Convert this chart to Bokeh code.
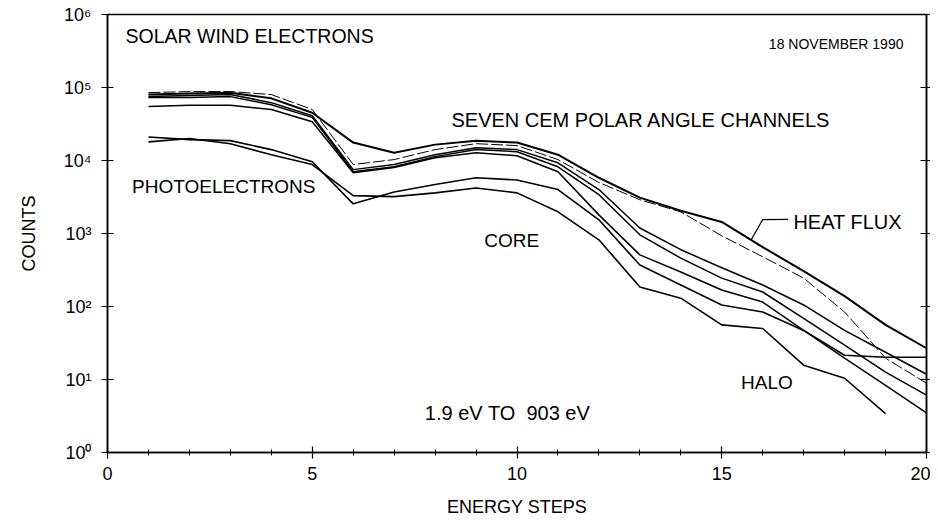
from bokeh.plotting import figure
from bokeh.models import Range1d, FixedTicker, LogAxis, CustomJSTickFormatter
from bokeh.core.properties import value
from bokeh.embed import file_html
from bokeh.resources import INLINE

# ---------------- data (counts per energy step) ----------------
steps = list(range(1, 21))

ch_heat_flux = [8.0e4, 8.3e4, 8.5e4, 7.1e4, 4.5e4, 1.76e4, 1.28e4, 1.65e4, 1.87e4, 1.76e4,
                1.20e4, 5.8e3, 3.1e3, 2.05e3, 1.44e3, 650, 306, 139, 56, 26.8]
ch_thin = [8.5e4, 8.8e4, 8.8e4, 8.0e4, 5.0e4, 8.8e3, 1.03e4, 1.41e4, 1.70e4, 1.60e4,
           1.03e4, 5.0e3, 2.9e3, 1.98e3, 930, 480, 245, 84, 19.6, 8.9]
ch_c = [7.5e4, 7.8e4, 8.0e4, 6.2e4, 4.1e4, 7.5e3, 8.8e3, 1.20e4, 1.50e4, 1.41e4,
        9.3e3, 4.0e3, 1.19e3, 600, 340, 197, 105, 47, 23.6, 11.8]
ch_d = [7.3e4, 7.3e4, 7.5e4, 5.8e4, 3.9e4, 7.0e3, 8.2e3, 1.13e4, 1.41e4, 1.32e4,
        8.2e3, 3.4e3, 960, 460, 245, 158, 69, 29.5, 12.6, 6.1]
ch_e = [5.5e4, 5.7e4, 5.7e4, 5.0e4, 3.4e4, 6.8e3, 8.0e3, 1.09e4, 1.28e4, 1.16e4,
        7.0e3, 1.80e3, 510, 297, 168, 115, 47, 19.6, 8.3, 3.5]
ch_core = [2.1e4, 1.93e4, 1.87e4, 1.41e4, 9.6e3, 2.55e3, 3.7e3, 4.7e3, 5.8e3, 5.4e3,
           4.0e3, 1.54e3, 370, 197, 105, 84, 47, 21.5, 20.2, 20.2]
ch_halo = [1.8e4, 2.0e4, 1.70e4, 1.20e4, 8.8e3, 3.3e3, 3.2e3, 3.6e3, 4.2e3, 3.6e3,
           1.98e3, 820, 185, 130, 56, 50, 15.7, 10.4, 3.4]

x_major = [0, 5, 10, 15, 20]
x_minor = [1, 2, 3, 4, 6, 7, 8, 9, 11, 12, 13, 14, 16, 17, 18, 19]
y_ticks = [1, 10, 100, 1000, 10000, 100000, 1000000]

FONT = "Liberation Sans"

p = figure(width=930, height=519, y_axis_type="log",
           x_range=Range1d(0, 20), y_range=Range1d(1, 1e6),
           output_backend="svg", toolbar_location=None,
           min_border_left=107, min_border_right=4, min_border_top=14, min_border_bottom=67)
p.grid.visible = False
p.background_fill_color = "white"
p.border_fill_color = "white"
p.outline_line_color = "black"
p.outline_line_width = 1.5

# lines
series = [
    (ch_heat_flux, 2.0, None),
    (ch_thin, 1.0, "12 3"),
    (ch_c, 1.5, None),
    (ch_d, 1.5, None),
    (ch_e, 1.5, None),
    (ch_core, 1.6, None),
]
for ys, lw, dash in series:
    if dash:
        p.line(steps, ys, line_color="black", line_width=lw, line_dash=dash)
    else:
        p.line(steps, ys, line_color="black", line_width=lw)
p.line(steps[:len(ch_halo)], ch_halo, line_color="black", line_width=1.6)

# heat flux pointer
p.line([15.72, 16.0, 16.62], [820, 1550, 1560], line_color="black", line_width=1.2)

# axes
xa = p.xaxis[0]
xa.ticker = FixedTicker(ticks=x_major, minor_ticks=x_minor)
xa.axis_label = "ENERGY STEPS"
ya = p.yaxis[0]
ya.ticker = FixedTicker(ticks=y_ticks, minor_ticks=[])
ya.axis_label = "COUNTS"
ya.formatter = CustomJSTickFormatter(code="""
const sup = {"0":"\u2070","1":"\u00b9","2":"\u00b2","3":"\u00b3","4":"\u2074","5":"\u2075","6":"\u2076"};
const e = Math.round(Math.log10(tick));
return "10" + sup[String(e)];
""")

for ax in (xa, ya):
    ax.axis_line_width = 1.5
    ax.axis_line_color = "black"
    ax.major_tick_line_color = "black"
    ax.major_tick_line_width = 1.2
    ax.minor_tick_line_color = "black"
    ax.minor_tick_line_width = 1
    ax.major_tick_in = 6
    ax.major_tick_out = 6
    ax.minor_tick_in = 3
    ax.minor_tick_out = 3
    ax.major_label_text_font = FONT
    ax.major_label_text_font_size = "18px"
    ax.major_label_text_color = "black"
    ax.axis_label_text_font = FONT
    ax.axis_label_text_font_size = "18px"
    ax.axis_label_text_font_style = "normal"
    ax.axis_label_text_color = "black"
xa.major_label_standoff = 8
xa.axis_label_standoff = 14
ya.major_label_standoff = 10
ya.axis_label_standoff = 22
ya.minor_tick_line_color = None

ra = LogAxis(ticker=FixedTicker(ticks=y_ticks, minor_ticks=[]),
             major_label_text_font_size="2px", major_label_text_color=None,
             major_label_standoff=0,
             axis_line_width=1.5, major_tick_in=6, major_tick_out=4,
             major_tick_line_width=1.2, minor_tick_line_color=None)
p.add_layout(ra, "right")

# annotations
labels = [
    ("SOLAR WIND ELECTRONS", 0.44, 5.0e5, "19.5px"),
    ("18 NOVEMBER 1990", 16.15, 4.0e5, "14px"),
    ("SEVEN CEM POLAR ANGLE CHANNELS", 8.4, 3.6e4, "20px"),
    ("PHOTOELECTRONS", 0.6, 4.4e3, "19px"),
    ("CORE", 9.2, 8.1e2, "19px"),
    ("HEAT FLUX", 16.75, 1.45e3, "20px"),
    ("HALO", 15.47, 9.2, "19px"),
    ("1.9 eV TO\u00a0\u00a0903 eV", 7.75, 3.5, "20px"),
]
for txt, lx, ly, fs in labels:
    p.text(x=[lx], y=[ly], text=[txt], text_font=value(FONT), text_font_size=value(fs),
           text_color="black", text_baseline="middle", text_align="left")

open("out.html", "w").write(file_html(p, INLINE))
